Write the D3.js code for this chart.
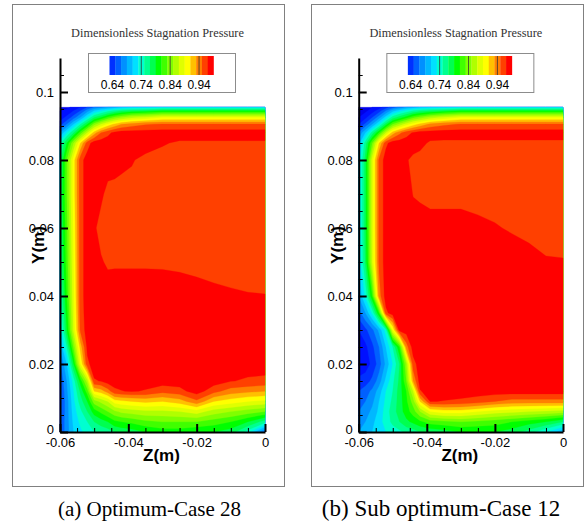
<!DOCTYPE html>
<html>
<head>
<meta charset="utf-8">
<script src="https://cdn.jsdelivr.net/npm/d3@7"></script>
<style>
  body { margin: 0; background: #fff; }
  svg { display: block; }
  text { font-family: "Liberation Sans", Arial, sans-serif; }
</style>
</head>
<body>
<svg id="chart" width="585" height="524"></svg>
<script>
'use strict'

/**
 *  Dimensionless stagnation pressure, two cases side by side
 */

// sample positions of the field (m)
const zCols = [-0.06, -0.058, -0.056, -0.054, -0.052, -0.05, -0.048, -0.046, -0.044, -0.042,
  -0.039, -0.035, -0.03, -0.025, -0.02, -0.015, -0.01, -0.005, 0]
const yRows = [0, 0.003, 0.006, 0.009, 0.012, 0.015, 0.02, 0.025, 0.03, 0.035, 0.04,
  0.05, 0.06, 0.07, 0.08, 0.085, 0.088, 0.0905, 0.0925, 0.0945, 0.0955]

// contour levels and band colours
const contourLevels = [0.60, 0.62, 0.64, 0.66, 0.68, 0.70, 0.72, 0.74, 0.76, 0.78,
  0.80, 0.82, 0.84, 0.86, 0.88, 0.90, 0.92, 0.94, 0.96, 0.98]
const bandColors = ['#0000e8', '#0010ff', '#0030ff', '#0060ff', '#0090ff', '#00b8ff', '#00e0ff',
  '#00ffd0', '#00ff90', '#00ff50', '#00ff00', '#40ff00', '#80ff00', '#b0ff00', '#e0ff00',
  '#ffff00', '#ffc000', '#ff8000', '#ff4000', '#ff0000']

// legend
const legendLevels = [0.64, 0.66, 0.68, 0.70, 0.72, 0.74, 0.76, 0.78, 0.80, 0.82,
  0.84, 0.86, 0.88, 0.90, 0.92, 0.94, 0.96, 0.98]
const legendLabels = [0.64, 0.74, 0.84, 0.94]
const legendMarks = [0.74, 0.84, 0.94]

// axes
const xTicks = [-0.06, -0.04, -0.02, 0]
const xTickLabels = ['-0.06', '-0.04', '-0.02', '0']
const yTicks = [0, 0.02, 0.04, 0.06, 0.08, 0.1]
const yTickLabels = ['0', '0.02', '0.04', '0.06', '0.08', '0.1']

// (a) Optimum-Case 28, one row per yRows entry, bottom first
const pressureA = [
  [0.66, 0.69, 0.72, 0.735, 0.75, 0.76, 0.765, 0.77, 0.78, 0.785, 0.79, 0.80, 0.81, 0.81, 0.80, 0.80, 0.79, 0.75, 0.67],
  [0.66, 0.69, 0.725, 0.745, 0.76, 0.78, 0.79, 0.80, 0.815, 0.82, 0.825, 0.835, 0.84, 0.84, 0.84, 0.83, 0.82, 0.80, 0.77],
  [0.655, 0.69, 0.73, 0.755, 0.78, 0.81, 0.825, 0.84, 0.855, 0.865, 0.87, 0.875, 0.875, 0.88, 0.89, 0.87, 0.86, 0.85, 0.84],
  [0.655, 0.69, 0.735, 0.77, 0.80, 0.85, 0.865, 0.88, 0.91, 0.915, 0.92, 0.925, 0.92, 0.93, 0.955, 0.92, 0.91, 0.90, 0.895],
  [0.655, 0.695, 0.74, 0.785, 0.83, 0.92, 0.93, 0.95, 0.975, 0.979, 0.982, 0.978, 0.967, 0.973, 0.99, 0.967, 0.95, 0.945, 0.94],
  [0.66, 0.70, 0.75, 0.81, 0.87, 0.978, 0.981, 0.99, 0.99, 0.99, 0.99, 0.99, 0.99, 0.99, 0.99, 0.99, 0.981, 0.977, 0.975],
  [0.675, 0.72, 0.80, 0.90, 0.975, 0.99, 0.99, 0.99, 0.99, 0.99, 0.99, 0.99, 0.99, 0.99, 0.99, 0.99, 0.99, 0.99, 0.99],
  [0.70, 0.76, 0.845, 0.93, 0.985, 0.99, 0.99, 0.99, 0.99, 0.99, 0.99, 0.99, 0.99, 0.99, 0.99, 0.99, 0.99, 0.99, 0.99],
  [0.725, 0.80, 0.885, 0.965, 0.99, 0.99, 0.99, 0.99, 0.99, 0.99, 0.99, 0.99, 0.99, 0.99, 0.99, 0.99, 0.99, 0.99, 0.99],
  [0.74, 0.81, 0.89, 0.97, 0.99, 0.99, 0.99, 0.99, 0.99, 0.99, 0.99, 0.99, 0.99, 0.99, 0.99, 0.99, 0.99, 0.99, 0.99],
  [0.75, 0.82, 0.895, 0.972, 0.99, 0.99, 0.99, 0.99, 0.99, 0.99, 0.99, 0.99, 0.99, 0.99, 0.99, 0.985, 0.9825, 0.981, 0.9805],
  [0.765, 0.83, 0.90, 0.972, 0.99, 0.99, 0.982, 0.977, 0.9775, 0.9775, 0.9775, 0.9775, 0.9772, 0.9757, 0.972, 0.972, 0.972, 0.972, 0.972],
  [0.77, 0.835, 0.905, 0.972, 0.99, 0.983, 0.973, 0.972, 0.972, 0.972, 0.972, 0.972, 0.972, 0.972, 0.972, 0.972, 0.972, 0.972, 0.972],
  [0.775, 0.84, 0.91, 0.972, 0.99, 0.99, 0.984, 0.974, 0.972, 0.972, 0.972, 0.972, 0.972, 0.972, 0.972, 0.972, 0.972, 0.972, 0.972],
  [0.77, 0.84, 0.91, 0.972, 0.99, 0.99, 0.99, 0.99, 0.99, 0.9856, 0.9818, 0.974, 0.972, 0.972, 0.972, 0.972, 0.972, 0.972, 0.972],
  [0.75, 0.80, 0.86, 0.92, 0.97, 0.99, 0.99, 0.99, 0.99, 0.99, 0.99, 0.99, 0.982, 0.977, 0.977, 0.977, 0.977, 0.977, 0.977],
  [0.70, 0.74, 0.78, 0.83, 0.88, 0.93, 0.96, 0.975, 0.985, 0.99, 0.99, 0.99, 0.99, 0.99, 0.99, 0.99, 0.99, 0.99, 0.99],
  [0.65, 0.68, 0.72, 0.76, 0.80, 0.85, 0.88, 0.905, 0.925, 0.94, 0.95, 0.958, 0.962, 0.962, 0.962, 0.962, 0.962, 0.962, 0.962],
  [0.63, 0.645, 0.67, 0.70, 0.74, 0.78, 0.80, 0.825, 0.845, 0.86, 0.875, 0.885, 0.90, 0.90, 0.90, 0.90, 0.90, 0.90, 0.90],
  [0.62, 0.625, 0.64, 0.66, 0.69, 0.72, 0.735, 0.75, 0.765, 0.775, 0.785, 0.79, 0.80, 0.80, 0.80, 0.80, 0.80, 0.80, 0.80],
  [0.61, 0.615, 0.625, 0.64, 0.66, 0.68, 0.69, 0.70, 0.71, 0.715, 0.72, 0.725, 0.73, 0.73, 0.73, 0.73, 0.73, 0.73, 0.73],
]

// (b) Sub optimum-Case 12
const pressureB = [
  [0.70, 0.71, 0.72, 0.73, 0.74, 0.75, 0.755, 0.765, 0.77, 0.78, 0.785, 0.79, 0.80, 0.80, 0.80, 0.79, 0.77, 0.74, 0.70],
  [0.69, 0.70, 0.715, 0.73, 0.75, 0.765, 0.78, 0.795, 0.805, 0.815, 0.83, 0.835, 0.84, 0.835, 0.83, 0.82, 0.81, 0.80, 0.78],
  [0.68, 0.69, 0.705, 0.725, 0.75, 0.77, 0.79, 0.81, 0.83, 0.86, 0.90, 0.91, 0.91, 0.90, 0.89, 0.885, 0.88, 0.875, 0.87],
  [0.67, 0.68, 0.695, 0.72, 0.745, 0.765, 0.79, 0.815, 0.85, 0.92, 0.981, 0.979, 0.976, 0.97, 0.96, 0.952, 0.952, 0.952, 0.952],
  [0.66, 0.67, 0.685, 0.71, 0.74, 0.76, 0.79, 0.82, 0.88, 0.978, 0.99, 0.99, 0.99, 0.99, 0.99, 0.99, 0.99, 0.99, 0.99],
  [0.645, 0.65, 0.665, 0.69, 0.725, 0.755, 0.785, 0.84, 0.94, 0.99, 0.99, 0.99, 0.99, 0.99, 0.99, 0.99, 0.99, 0.99, 0.99],
  [0.625, 0.63, 0.645, 0.67, 0.705, 0.74, 0.78, 0.86, 0.972, 0.99, 0.99, 0.99, 0.99, 0.99, 0.99, 0.99, 0.99, 0.99, 0.99],
  [0.63, 0.635, 0.655, 0.68, 0.72, 0.76, 0.82, 0.95, 0.99, 0.99, 0.99, 0.99, 0.99, 0.99, 0.99, 0.99, 0.99, 0.99, 0.99],
  [0.64, 0.655, 0.675, 0.705, 0.75, 0.90, 0.99, 0.99, 0.99, 0.99, 0.99, 0.99, 0.99, 0.99, 0.99, 0.99, 0.99, 0.99, 0.99],
  [0.67, 0.70, 0.745, 0.82, 0.975, 0.99, 0.99, 0.99, 0.99, 0.99, 0.99, 0.99, 0.99, 0.99, 0.99, 0.99, 0.99, 0.99, 0.99],
  [0.70, 0.745, 0.82, 0.95, 0.99, 0.99, 0.99, 0.99, 0.99, 0.99, 0.99, 0.99, 0.99, 0.99, 0.99, 0.99, 0.99, 0.99, 0.99],
  [0.72, 0.785, 0.885, 0.965, 0.99, 0.99, 0.99, 0.99, 0.99, 0.99, 0.99, 0.99, 0.99, 0.99, 0.99, 0.99, 0.99, 0.9817, 0.9811],
  [0.725, 0.79, 0.89, 0.965, 0.99, 0.99, 0.99, 0.99, 0.99, 0.99, 0.99, 0.99, 0.99, 0.985, 0.9815, 0.978, 0.972, 0.972, 0.972],
  [0.725, 0.79, 0.89, 0.965, 0.99, 0.99, 0.99, 0.99, 0.979, 0.9765, 0.972, 0.972, 0.972, 0.972, 0.972, 0.972, 0.972, 0.972, 0.972],
  [0.725, 0.79, 0.89, 0.965, 0.99, 0.99, 0.99, 0.982, 0.975, 0.973, 0.972, 0.972, 0.972, 0.972, 0.972, 0.972, 0.972, 0.972, 0.972],
  [0.71, 0.77, 0.84, 0.92, 0.975, 0.99, 0.99, 0.99, 0.99, 0.986, 0.977, 0.976, 0.976, 0.976, 0.976, 0.976, 0.976, 0.976, 0.976],
  [0.68, 0.72, 0.77, 0.82, 0.88, 0.93, 0.955, 0.972, 0.982, 0.99, 0.99, 0.99, 0.99, 0.99, 0.99, 0.99, 0.99, 0.99, 0.99],
  [0.64, 0.665, 0.70, 0.74, 0.79, 0.84, 0.865, 0.89, 0.91, 0.925, 0.945, 0.955, 0.962, 0.962, 0.962, 0.962, 0.962, 0.962, 0.962],
  [0.62, 0.635, 0.66, 0.69, 0.73, 0.77, 0.79, 0.81, 0.835, 0.85, 0.87, 0.885, 0.90, 0.90, 0.90, 0.90, 0.90, 0.90, 0.90],
  [0.61, 0.615, 0.63, 0.65, 0.68, 0.71, 0.73, 0.745, 0.76, 0.77, 0.78, 0.79, 0.80, 0.80, 0.80, 0.80, 0.80, 0.80, 0.80],
  [0.605, 0.61, 0.62, 0.63, 0.65, 0.67, 0.685, 0.70, 0.71, 0.715, 0.72, 0.725, 0.73, 0.73, 0.73, 0.73, 0.73, 0.73, 0.73],
]

const panels = [
  {caption: '(a) Optimum-Case 28', values: pressureA, frameX: 12.5, plotX: [60, 265], captionX: 149.5, captionSize: 21},
  {caption: '(b) Sub optimum-Case 12', values: pressureB, frameX: 311.5, plotX: [358.7, 563], captionX: 441, captionSize: 23},
]

const svg = d3.select('#chart')
const frameW = 272, frameTop = 4.5, frameH = 482
const plotY = [432, 58]

// grid index -> metres (value i sits at i + 0.5 in d3.contours space)
const gx = d3.scaleLinear().domain(zCols.map((d, i) => i + 0.5)).range(zCols).clamp(true)
const gy = d3.scaleLinear().domain(yRows.map((d, i) => i + 0.5)).range(yRows).clamp(true)

const _drawPanel = (p) => {
  const x = d3.scaleLinear().domain([-0.06, 0]).range(p.plotX)
  const y = d3.scaleLinear().domain([0, 0.11]).range(plotY)
  const cx = (p.plotX[0] + p.plotX[1]) / 2
  const g = svg.append('g')

  g.append('rect')
    .attr('x', p.frameX).attr('y', frameTop)
    .attr('width', frameW).attr('height', frameH)
    .attr('fill', 'none').attr('stroke', '#808080').attr('stroke-width', 1)

  // filled contour bands
  const bands = d3.contours()
    .size([zCols.length, yRows.length])
    .thresholds(contourLevels)(p.values.flat())
  const proj = d3.geoTransform({
    point: function (u, v) { this.stream.point(x(gx(u)), y(gy(v))) }
  })
  const path = d3.geoPath(proj)
  g.append('g').selectAll('path')
    .data(bands)
    .enter().append('path')
    .attr('d', path)
    .attr('fill', (d, i) => bandColors[i])
    .attr('stroke', (d, i) => bandColors[i])
    .attr('stroke-width', 0.3)

  // title + legend
  g.append('text')
    .attr('x', cx - 5).attr('y', 36.7)
    .attr('text-anchor', 'middle')
    .style('font-family', '"Liberation Serif", "Times New Roman", serif')
    .style('font-size', '12.3px')
    .attr('fill', '#333')
    .text('Dimensionless Stagnation Pressure')

  const boxX = cx - 74
  g.append('rect')
    .attr('x', boxX).attr('y', 53.5).attr('width', 147).attr('height', 39)
    .attr('fill', '#fff').attr('stroke', '#8c8c8c').attr('stroke-width', 1)

  const lx = d3.scaleBand().domain(legendLevels).range([cx - 53, cx + 51])
  const bw = lx.bandwidth()
  g.append('g').selectAll('rect')
    .data(legendLevels)
    .enter().append('rect')
    .attr('x', (d) => lx(d)).attr('y', 56)
    .attr('width', bw + 0.3).attr('height', 19)
    .attr('fill', (d) => bandColors[Math.round((d - contourLevels[0]) / 0.02)])
  g.append('g').selectAll('line')
    .data(legendMarks)
    .enter().append('line')
    .attr('x1', (d) => lx(d) + bw / 2).attr('x2', (d) => lx(d) + bw / 2)
    .attr('y1', 56).attr('y2', 75)
    .attr('stroke', '#333').attr('stroke-width', 0.8)
  g.append('g').selectAll('text')
    .data(legendLabels)
    .enter().append('text')
    .attr('x', (d) => lx(d) + bw / 2).attr('y', 89)
    .attr('text-anchor', 'middle')
    .style('font-size', '12px')
    .text((d) => d.toFixed(2))

  // axis titles
  g.append('text')
    .attr('transform', 'translate(' + (p.plotX[0] - 16) + ',245)rotate(-90)')
    .attr('text-anchor', 'middle')
    .style('font-size', '17px').style('font-weight', 'bold')
    .text('Y(m)')
  g.append('text')
    .attr('x', cx - 1).attr('y', 461)
    .attr('text-anchor', 'middle')
    .style('font-size', '17px').style('font-weight', 'bold')
    .text('Z(m)')

  // minor ticks
  const yMinor = y.ticks(22).filter((d) => !yTicks.some((t) => Math.abs(t - d) < 1e-9) && d < 0.109)
  const xMinor = x.ticks(12).filter((d) => !xTicks.some((t) => Math.abs(t - d) < 1e-9))
  g.append('g')
    .attr('transform', 'translate(' + p.plotX[0] + ',0)')
    .call(d3.axisLeft(y).tickValues(yMinor).tickSize(-4).tickFormat(''))
    .call((a) => a.select('.domain').remove())
    .selectAll('line').attr('stroke', '#000').attr('stroke-width', 1)
  g.append('g')
    .attr('transform', 'translate(0,' + plotY[0] + ')')
    .call(d3.axisBottom(x).tickValues(xMinor).tickSize(-4).tickFormat(''))
    .call((a) => a.select('.domain').remove())
    .selectAll('line').attr('stroke', '#000').attr('stroke-width', 1)

  // major axes
  const yAxis = g.append('g')
    .attr('transform', 'translate(' + p.plotX[0] + ',0)')
    .call(d3.axisLeft(y).tickValues(yTicks)
      .tickFormat((d, i) => yTickLabels[i])
      .tickSizeInner(-8).tickSizeOuter(0).tickPadding(6))
  const xAxis = g.append('g')
    .attr('transform', 'translate(0,' + plotY[0] + ')')
    .call(d3.axisBottom(x).tickValues(xTicks)
      .tickFormat((d, i) => xTickLabels[i])
      .tickSizeInner(-8).tickSizeOuter(0).tickPadding(6))
  ;[yAxis, xAxis].forEach((a) => {
    a.attr('font-family', null).attr('font-size', null)
    a.select('.domain').attr('stroke', '#000').attr('stroke-width', 2)
    a.selectAll('.tick line').attr('stroke', '#000').attr('stroke-width', 2)
    a.selectAll('.tick text').style('font-size', '13px').attr('fill', '#000')
  })
  // the y "0" sits just above the first x label
  yAxis.selectAll('.tick text').filter((d) => d === 0).attr('dy', '0.1em')

  // caption
  g.append('text')
    .attr('x', p.captionX).attr('y', 516)
    .attr('text-anchor', 'middle')
    .style('font-family', '"Liberation Serif", "Times New Roman", serif')
    .style('font-size', p.captionSize + 'px')
    .text(p.caption)
}

panels.forEach(_drawPanel)
</script>
</body>
</html>
